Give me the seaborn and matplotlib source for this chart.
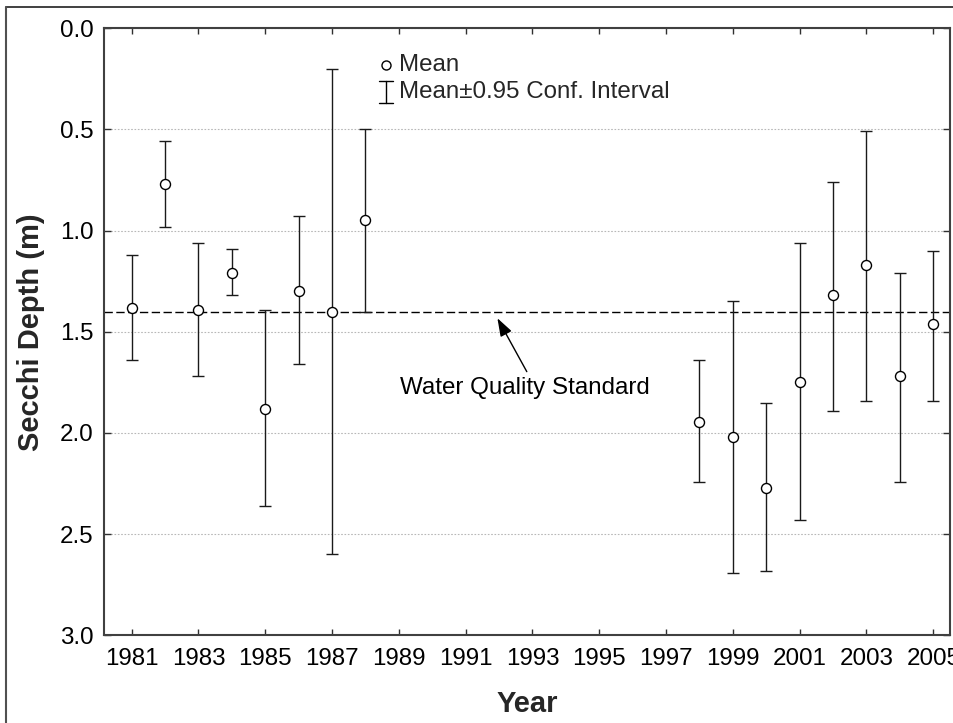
import matplotlib
matplotlib.use("Agg")
import matplotlib.pyplot as plt
from matplotlib.lines import Line2D
import numpy as np
import pandas as pd
import seaborn as sns

# Annual Secchi depth summary: mean and 95% confidence limits (m)
years = [1981, 1982, 1983, 1984, 1985, 1986, 1987, 1988,
         1998, 1999, 2000, 2001, 2002, 2003, 2004, 2005]
mean_depth = [1.38, 0.77, 1.39, 1.21, 1.88, 1.30, 1.40, 0.95,
              1.945, 2.02, 2.27, 1.75, 1.32, 1.17, 1.72, 1.46]
ci_low = [1.12, 0.555, 1.06, 1.09, 1.39, 0.93, 0.20, 0.50,
          1.64, 1.35, 1.85, 1.06, 0.76, 0.51, 1.21, 1.10]
ci_high = [1.64, 0.98, 1.72, 1.32, 2.36, 1.66, 2.60, 1.40,
           2.24, 2.69, 2.68, 2.43, 1.89, 1.84, 2.24, 1.84]
standard_depth = 1.4
year_ticks = list(range(1981, 2006, 2))
depth_ticks = [0.0, 0.5, 1.0, 1.5, 2.0, 2.5, 3.0]

df = pd.DataFrame({"Year": years, "Mean": mean_depth,
                   "Low": ci_low, "High": ci_high})

sns.set_style("white")
plt.rcParams["font.family"] = ["Liberation Sans", "DejaVu Sans"]

FS = 17.4

fig = plt.figure(figsize=(9.54, 7.23), dpi=100)
ax = fig.add_axes([0.1093, 0.1213, 0.8865, 0.8396])

# confidence interval whiskers
ax.errorbar(df["Year"], df["Mean"],
            yerr=[df["Mean"] - df["Low"], df["High"] - df["Mean"]],
            fmt="none", ecolor="#1a1a1a", elinewidth=1.0,
            capsize=4.5, capthick=1.0, zorder=3)

# means as open circles
sns.scatterplot(data=df, x="Year", y="Mean", ax=ax, marker="o", s=52,
                facecolor="white", edgecolor="black", linewidth=1.0,
                zorder=4, legend=False)

# water quality standard
ax.axhline(standard_depth, color="black", lw=1.0, ls=(0, (6, 2.5)), zorder=2)
ax.annotate("", xy=(1991.95, 1.433), xytext=(1992.83, 1.697),
            arrowprops=dict(arrowstyle="-|>,head_length=1.1,head_width=0.38",
                            color="black", lw=1.0, shrinkA=0, shrinkB=0))
ax.text(1992.78, 1.78, "Water Quality Standard", ha="center", va="center",
        fontsize=FS, color="black")

ax.set_xlim(1980.18, 2005.5)
ax.set_ylim(3.0, 0.0)
ax.set_xticks(year_ticks)
ax.set_xticklabels([str(y) for y in year_ticks])
ax.set_yticks(depth_ticks)
ax.set_yticklabels([f"{v:.1f}" for v in depth_ticks])

ax.yaxis.grid(True, color="#b8b8b8", ls=(0, (1.5, 1.5)), lw=0.8)
ax.xaxis.grid(False)
ax.set_axisbelow(True)

ax.tick_params(axis="x", direction="in", length=4, width=1.0, color="#303030",
               top=True, bottom=True, labelsize=FS, pad=9.5, labelcolor="black")
ax.tick_params(axis="y", direction="in", length=5, width=1.0, color="#303030",
               left=True, right=True, labelsize=FS, pad=7.5, labelcolor="black")
for side in ["left", "right", "top", "bottom"]:
    ax.spines[side].set_visible(True)
    ax.spines[side].set_color("#404040")
    ax.spines[side].set_linewidth(1.5)

ax.set_xlabel("Year", fontsize=21, fontweight="bold", labelpad=14)
ax.set_ylabel("Secchi Depth (m)", fontsize=21, fontweight="bold")
ax.yaxis.set_label_coords(-0.0705, 0.5)

# key for the markers and whiskers
tr = ax.transAxes
ax.plot([0.3331], [0.9395], marker="o", ms=6.5, mfc="white", mec="black",
        mew=1.0, ls="none", transform=tr, clip_on=False)
ax.plot([0.3331, 0.3331], [0.9132, 0.8761], color="black", lw=1.0,
        transform=tr, clip_on=False)
for yy in (0.9132, 0.8761):
    ax.plot([0.3243, 0.3419], [yy, yy], color="black", lw=1.0,
            transform=tr, clip_on=False)
ax.text(0.3485, 0.9395, "Mean", transform=tr, ha="left", va="center",
        fontsize=FS)
ax.text(0.3485, 0.8946, "Mean\u00b10.95 Conf. Interval", transform=tr,
        ha="left", va="center", fontsize=FS)

# outer frame of the graph window
W, H = 954, 723
fig.add_artist(Line2D([6.5 / W, 1.0], [1 - 7 / H, 1 - 7 / H],
                      transform=fig.transFigure, color="#202020", lw=1.2))
fig.add_artist(Line2D([6.5 / W, 6.5 / W], [0.0, 1 - 7 / H],
                      transform=fig.transFigure, color="#505050", lw=1.5))

fig.savefig("out.png", dpi=100)
